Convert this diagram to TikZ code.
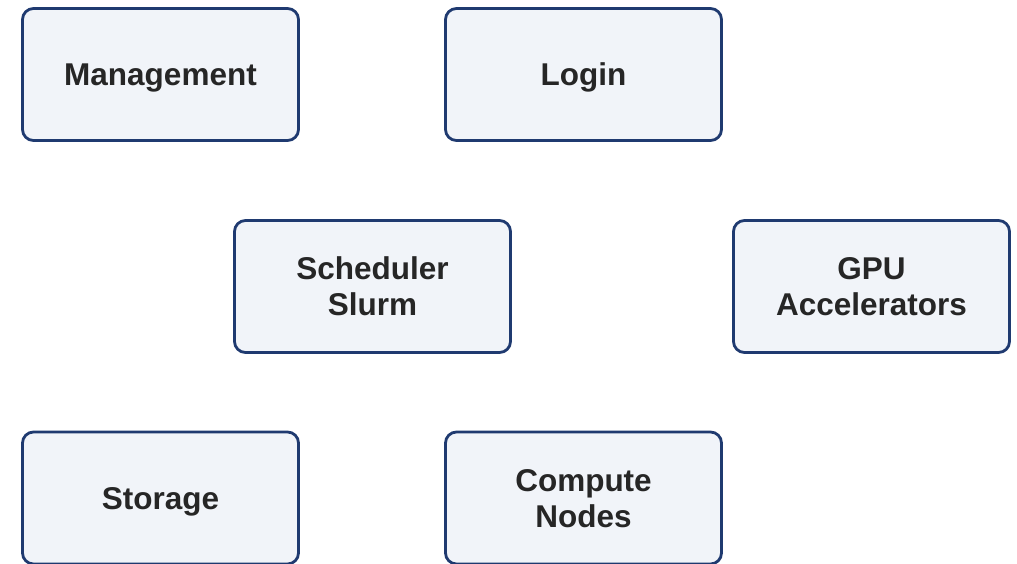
\documentclass[tikz,border=0pt]{standalone}
\usepackage{fontspec}
\setmainfont{Liberation Sans}
\definecolor{boxline}{HTML}{1F3A70}
\definecolor{boxfill}{HTML}{F1F4F9}
\definecolor{boxtext}{HTML}{262626}
\begin{document}
\begin{tikzpicture}[x=1pt,y=-1pt,
  unit/.style={draw=boxline, line width=2.8pt, fill=boxfill, rounded corners=11pt,
    minimum width=276pt, minimum height=132pt, align=center, text=boxtext,
    font=\fontsize{31.5}{36}\selectfont\bfseries, inner sep=0pt, text depth=0pt}]
\useasboundingbox (0,0) rectangle (1017,563);
\fill[white] (0,0) rectangle (1017,563);
\node[unit] (mgmt) at (160.5,74.5) {Management};
\node[unit] (login) at (583.5,74.5) {Login};
\node[unit] (sched) at (372.5,286.5) {Scheduler\\Slurm};
\node[unit] (gpu) at (871.5,286.5) {GPU\\Accelerators};
\node[unit] (stor) at (160.5,498) {Storage};
\node[unit] (comp) at (583.5,498) {Compute\\Nodes};
\end{tikzpicture}
\end{document}
